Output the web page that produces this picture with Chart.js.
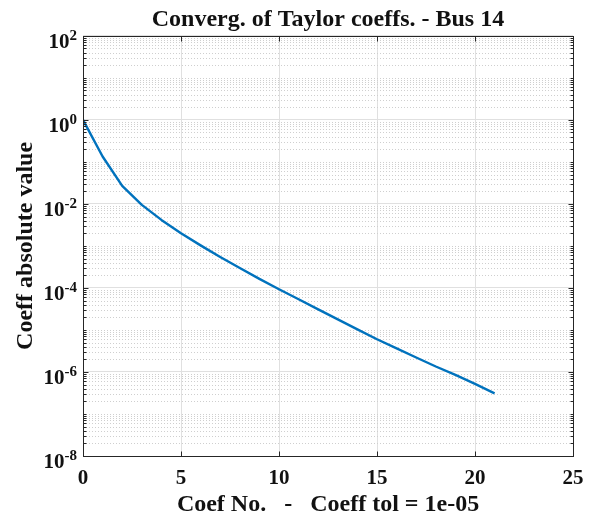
<!DOCTYPE html>
<html>
<head>
<meta charset="utf-8">
<title>Taylor coefficients - Bus 14</title>
<script src="https://cdn.jsdelivr.net/npm/chart.js@4/dist/chart.umd.min.js"></script>
<style>
  html, body { margin: 0; padding: 0; background: #ffffff; }
  canvas { display: block; }
</style>
</head>
<body>
<canvas id="coefChart" width="595" height="517"></canvas>
<script>
// Absolute value of each Taylor coefficient for bus 14
const coefNo = [0, 1, 2, 3, 4, 5, 6, 7, 8, 9, 10, 11, 12, 13, 14, 15, 16, 17, 18, 19, 20, 21];
const coefAbs = [1, 0.134, 0.0268, 0.00946, 0.00416, 0.0020, 0.00103, 5.47e-4, 2.99e-4, 1.64e-4,
	9.3e-5, 5.38e-5, 3.08e-5, 1.78e-5, 1.03e-5, 6.0e-6, 3.63e-6, 2.21e-6, 1.35e-6, 8.5e-7, 5.2e-7, 3.1e-7];

// Axis ticks
const xTicks = [0, 5, 10, 15, 20, 25];
const yTickExp = [2, 0, -2, -4, -6, -8];

const SERIF = "'Liberation Serif', 'Times New Roman', serif";
const AXIS_COLOR = '#262626';
const TEXT_COLOR = '#111111';

// Values for the dotted minor grid: k*10^n, skipping the labelled decades
function minorValues() {
	const out = [];
	for (let n = -8; n <= 1; n++) {
		for (let k = 1; k <= 9; k++) {
			if (k === 1 && n % 2 === 0) continue;
			out.push(k * Math.pow(10, n));
		}
	}
	return out;
}

// Minor grid, box, inward ticks and tick labels with superscript exponents
const matlabAxes = {
	id: 'matlabAxes',
	beforeDatasetsDraw(chart) {
		const { ctx, chartArea: a, scales: { y } } = chart;
		ctx.save();
		ctx.strokeStyle = '#cfcfcf';
		ctx.lineWidth = 1;
		ctx.setLineDash([1, 2]);
		for (const v of minorValues()) {
			const py = Math.round(y.getPixelForValue(v)) + 0.5;
			ctx.beginPath();
			ctx.moveTo(a.left, py);
			ctx.lineTo(a.right, py);
			ctx.stroke();
		}
		ctx.restore();
	},
	afterDatasetsDraw(chart) {
		const { ctx, chartArea: a, scales: { x, y } } = chart;
		const L = Math.round(a.left) + 0.5, R = Math.round(a.right) + 0.5;
		const T = Math.round(a.top) + 0.5, B = Math.round(a.bottom) + 0.5;
		ctx.save();
		ctx.strokeStyle = AXIS_COLOR;
		ctx.lineWidth = 1;
		ctx.strokeRect(L, T, R - L, B - T);

		ctx.beginPath();
		// y ticks on both sides
		yTickExp.forEach(e => {
			const py = Math.round(y.getPixelForValue(Math.pow(10, e))) + 0.5;
			ctx.moveTo(L, py); ctx.lineTo(L + 5, py);
			ctx.moveTo(R, py); ctx.lineTo(R - 5, py);
		});
		minorValues().forEach(v => {
			const py = Math.round(y.getPixelForValue(v)) + 0.5;
			ctx.moveTo(L, py); ctx.lineTo(L + 3, py);
			ctx.moveTo(R, py); ctx.lineTo(R - 3, py);
		});
		// x ticks top and bottom
		xTicks.forEach(v => {
			const px = Math.round(x.getPixelForValue(v)) + 0.5;
			ctx.moveTo(px, B); ctx.lineTo(px, B - 5);
			ctx.moveTo(px, T); ctx.lineTo(px, T + 5);
		});
		ctx.stroke();
		ctx.restore();
	},
	afterDraw(chart) {
		const { ctx, chartArea: a, scales: { x, y } } = chart;
		ctx.save();
		ctx.fillStyle = TEXT_COLOR;
		ctx.textBaseline = 'alphabetic';

		// x tick labels
		ctx.font = 'bold 21px ' + SERIF;
		ctx.textAlign = 'center';
		xTicks.forEach(v => {
			ctx.fillText(String(v), x.getPixelForValue(v), a.bottom + 28);
		});

		// y tick labels: 10 with a raised exponent
		const right = a.left - 6;
		yTickExp.forEach(e => {
			const py = y.getPixelForValue(Math.pow(10, e));
			const exp = String(e);
			ctx.font = 'bold 15px ' + SERIF;
			const ew = ctx.measureText(exp).width;
			ctx.textAlign = 'left';
			ctx.fillText(exp, right - ew, py + 4);
			ctx.font = 'bold 21px ' + SERIF;
			ctx.textAlign = 'right';
			ctx.fillText('10', right - ew, py + 12);
		});
		ctx.restore();
	}
};

const ctx = document.getElementById('coefChart').getContext('2d');
const coefChart = new Chart(ctx, {
	type: 'line',
	data: {
		datasets: [{
			label: 'Coeff absolute value',
			data: coefNo.map((n, i) => ({ x: n, y: coefAbs[i] })),
			borderColor: '#0072BD',
			backgroundColor: '#0072BD',
			borderWidth: 2.4,
			borderJoinStyle: 'round',
			pointRadius: 0,
			tension: 0,
			fill: false
		}]
	},
	options: {
		responsive: false,
		animation: false,
		layout: { padding: { left: 0, right: 22, top: 0, bottom: 0 } },
		plugins: {
			legend: { display: false },
			tooltip: { enabled: false },
			title: {
				display: true,
				fullSize: false,
				text: 'Converg. of Taylor coeffs. - Bus 14',
				color: TEXT_COLOR,
				font: { family: SERIF, size: 24, weight: 'bold', lineHeight: 1.2 },
				padding: { top: 5, bottom: 2 }
			}
		},
		scales: {
			x: {
				type: 'linear',
				min: 0,
				max: 25,
				afterBuildTicks: scale => { scale.ticks = xTicks.map(v => ({ value: v })); },
				afterFit: scale => { scale.height = 61; },
				ticks: { display: false },
				grid: { color: '#e0e0e0', drawTicks: false },
				border: { display: false },
				title: {
					display: true,
					text: 'Coef No.   -   Coeff tol = 1e-05',
					color: TEXT_COLOR,
					font: { family: SERIF, size: 24, weight: 'bold', lineHeight: 1.2 },
					padding: { top: 0, bottom: -2 }
				}
			},
			y: {
				type: 'logarithmic',
				min: 1e-8,
				max: 1e2,
				afterBuildTicks: scale => { scale.ticks = yTickExp.map(e => ({ value: Math.pow(10, e) })); },
				afterFit: scale => { scale.width = 83; },
				ticks: { display: false },
				grid: { color: '#e0e0e0', drawTicks: false },
				border: { display: false },
				title: {
					display: true,
					text: 'Coeff absolute value',
					color: TEXT_COLOR,
					font: { family: SERIF, size: 24, weight: 'bold', lineHeight: 1.2 },
					padding: { top: 11, bottom: 0 }
				}
			}
		}
	},
	plugins: [matlabAxes]
});
</script>
</body>
</html>
